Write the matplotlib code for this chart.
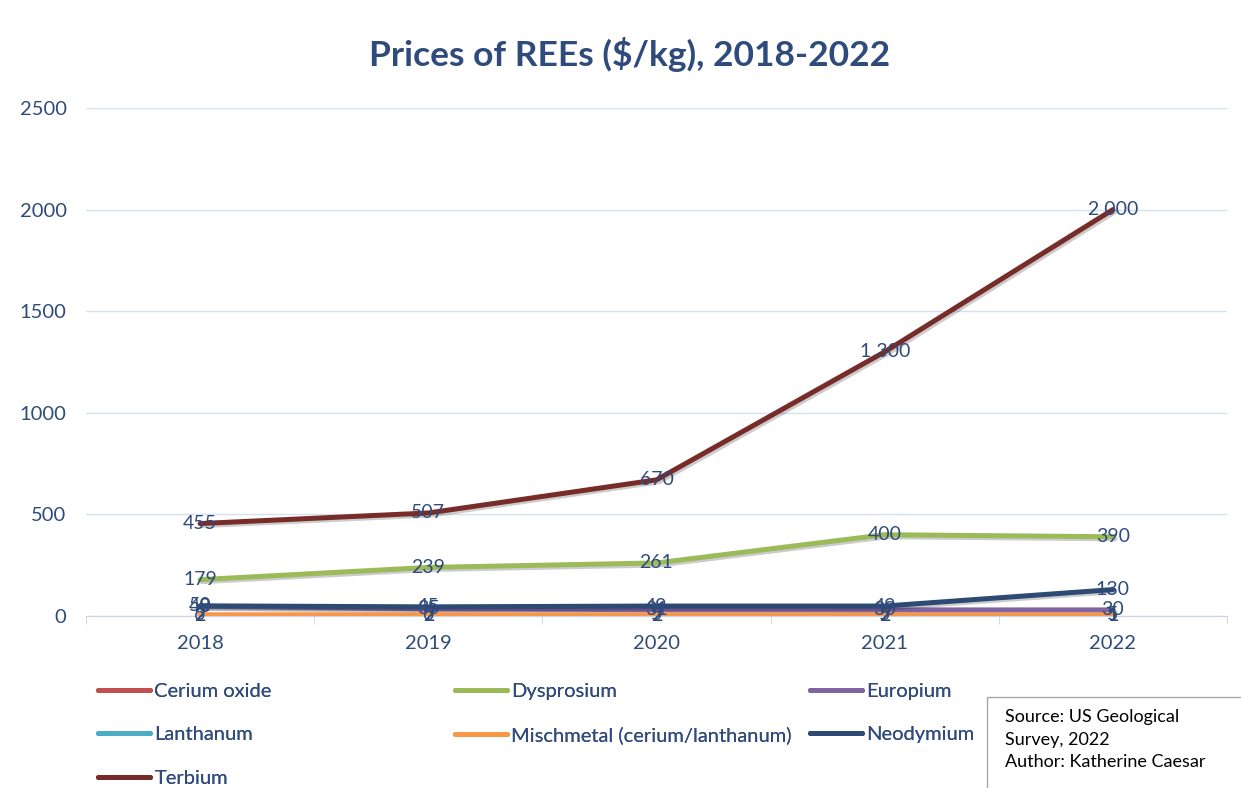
import matplotlib.pyplot as plt
import matplotlib.patheffects as pe
from matplotlib.lines import Line2D
import numpy as np

years = ['2018', '2019', '2020', '2021', '2022']
cerium_oxide = [2, 2, 2, 2, 1]
dysprosium = [179, 239, 261, 400, 390]
europium = [48, 35, 31, 30, 30]
lanthanum = [2, 2, 2, 2, 1]
mischmetal = [6, 6, 5, 5, 5]
neodymium = [50, 45, 49, 49, 130]
terbium = [455, 507, 670, 1300, 2000]

series = [
    ('Cerium oxide', cerium_oxide, '#C0504D'),
    ('Dysprosium', dysprosium, '#9BBB59'),
    ('Europium', europium, '#8064A2'),
    ('Lanthanum', lanthanum, '#4BACC6'),
    ('Mischmetal (cerium/lanthanum)', mischmetal, '#F79646'),
    ('Neodymium', neodymium, '#2C4A74'),
    ('Terbium', terbium, '#772C2A'),
]

navy = '#2F4B7C'
plt.rcParams['font.family'] = ['Lato', 'DejaVu Sans']

fig = plt.figure(figsize=(12.41, 7.88), dpi=100)
ax = fig.add_axes([86 / 1241, 1 - 616 / 788, (1227 - 86) / 1241, (616 - 108) / 788])

x = np.arange(len(years))
handles = {}
for name, vals, col in series:
    ax.plot(x, vals, color=col, lw=3.6, solid_capstyle='round', label=name,
            path_effects=[pe.SimpleLineShadow(offset=(1.5, -1.5), alpha=0.2), pe.Normal()])
    handles[name] = Line2D([], [], color=col, lw=3.6, solid_capstyle='round')
    for xi, v in zip(x, vals):
        ax.text(xi, v, f'{v:,}'.replace(',', ' '), ha='center', va='center',
                color=navy, fontsize=14, zorder=5)

ax.set_xlim(-0.5, len(years) - 0.5)
ax.set_ylim(0, 2500)
ax.set_yticks(range(0, 2501, 500))
ax.set_xticks(x)
ax.set_xticklabels(years)
ax.set_xticks(np.arange(-0.5, len(years), 1), minor=True)
ax.tick_params(axis='x', which='major', length=0, pad=14, labelsize=14.5, labelcolor=navy)
ax.tick_params(axis='x', which='minor', length=6, color='#C9D3E3', direction='out')
ax.tick_params(axis='y', length=0, pad=14, labelsize=14.5, labelcolor=navy)
ax.grid(axis='y', color='#D6E1F0', lw=1)
ax.set_axisbelow(True)
for s in ['top', 'right', 'left']:
    ax.spines[s].set_visible(False)
ax.spines['bottom'].set_color('#C9D3E3')

fig.text(630 / 1241, 1 - 55 / 788, 'Prices of REEs ($/kg), 2018-2022', ha='center', va='center',
         fontsize=25.5, fontweight='bold', color=navy)

# legend laid out row by row, one column at a time
columns = [(['Cerium oxide', 'Lanthanum', 'Terbium'], 98),
           (['Dysprosium', 'Mischmetal (cerium/lanthanum)'], 455),
           (['Europium', 'Neodymium'], 810)]
for names, px in columns:
    leg = fig.legend([handles[n] for n in names], names, loc='upper left',
                     bbox_to_anchor=(px / 1241, 1 - 683 / 788), frameon=False,
                     fontsize=14.5, handlelength=2.6, handletextpad=0.2,
                     labelspacing=1.3, borderpad=0, borderaxespad=0)
    for t in leg.get_texts():
        t.set_color(navy)
    fig.add_artist(leg)

fig.patches.append(plt.Rectangle((987 / 1241, -0.01), 0.3, (788 - 697) / 788 + 0.01,
                                 transform=fig.transFigure, fill=False,
                                 edgecolor='#A6A6A6', lw=1))
fig.text(1005 / 1241, 1 - 709 / 788, 'Source: US Geological\nSurvey, 2022\nAuthor: Katherine Caesar',
         ha='left', va='top', fontsize=13, color='black', linespacing=1.5)

fig.savefig('out.png', dpi=100)
